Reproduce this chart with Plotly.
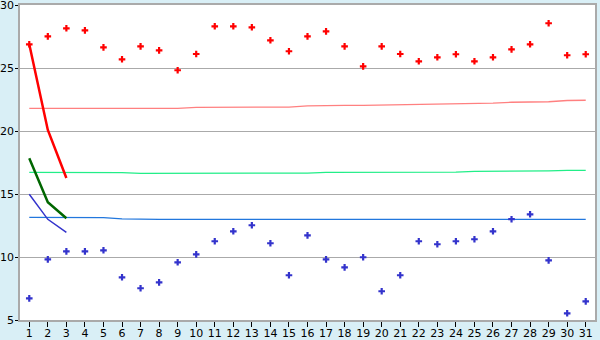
import plotly.graph_objects as go

days = list(range(1, 32))
max_temp = [26.88, 27.51, 28.15, 27.99, 26.64, 25.69, 26.72, 26.40, 24.82, 26.11,
            28.31, 28.31, 28.23, 27.20, 26.33, 27.51, 27.91, 26.72, 25.13, 26.72,
            26.11, 25.53, 25.85, 26.09, 25.53, 25.85, 26.48, 26.88, 28.55, 26.01, 26.09]
min_temp = [6.72, 9.81, 10.45, 10.45, 10.53, 8.39, 7.52, 7.99, 9.58, 10.21,
            11.25, 12.04, 12.52, 11.09, 8.55, 11.72, 9.81, 9.18, 9.98, 7.28,
            8.55, 11.25, 11.01, 11.25, 11.41, 12.04, 13.00, 13.39, 9.73, 5.53, 6.48]
normal_max = [21.80, 21.80, 21.80, 21.80, 21.80, 21.80, 21.80, 21.80, 21.80, 21.88,
              21.88, 21.88, 21.88, 21.88, 21.90, 22.00, 22.04, 22.04, 22.04, 22.06,
              22.12, 22.12, 22.14, 22.20, 22.20, 22.22, 22.28, 22.28, 22.32, 22.42, 22.44]
normal_mean = [16.72, 16.72, 16.72, 16.72, 16.72, 16.70, 16.64, 16.64, 16.64, 16.64,
               16.64, 16.64, 16.64, 16.64, 16.64, 16.66, 16.72, 16.72, 16.72, 16.72,
               16.72, 16.72, 16.72, 16.74, 16.80, 16.80, 16.80, 16.80, 16.84, 16.88, 16.88]
normal_min = [13.15, 13.15, 13.15, 13.15, 13.12, 13.03, 12.99, 12.99, 12.99, 12.99,
              12.99, 12.99, 12.99, 12.99, 12.99, 12.99, 12.99, 12.99, 12.99, 12.99,
              12.99, 12.99, 12.99, 12.99, 12.99, 12.99, 12.99, 12.99, 12.99, 12.99, 12.99]
fc_days = [1, 2, 3]
fc_max = [26.88, 20.08, 16.27]
fc_mean = [17.83, 14.34, 13.07]
fc_min = [14.98, 12.99, 11.96]

fig = go.Figure()
fig.add_trace(go.Scatter(x=days, y=normal_max, mode="lines",
                         line=dict(color="#FF8080", width=1.3), hoverinfo="skip"))
fig.add_trace(go.Scatter(x=days, y=normal_mean, mode="lines",
                         line=dict(color="#22EE88", width=1.3), hoverinfo="skip"))
fig.add_trace(go.Scatter(x=days, y=normal_min, mode="lines",
                         line=dict(color="#2277DD", width=1.3), hoverinfo="skip"))
fig.add_trace(go.Scatter(x=fc_days, y=fc_max, mode="lines",
                         line=dict(color="#FF0000", width=2.5)))
fig.add_trace(go.Scatter(x=fc_days, y=fc_mean, mode="lines",
                         line=dict(color="#006600", width=2.5)))
fig.add_trace(go.Scatter(x=fc_days, y=fc_min, mode="lines",
                         line=dict(color="#3333CC", width=1.5)))
fig.add_trace(go.Scatter(x=days, y=max_temp, mode="markers",
                         marker=dict(symbol="cross", size=5.5, color="#FF0000",
                                     line=dict(width=0))))
fig.add_trace(go.Scatter(x=days, y=min_temp, mode="markers",
                         marker=dict(symbol="cross", size=5.5, color="#3333CC",
                                     line=dict(width=0))))

fig.update_layout(
    width=600, height=340,
    margin=dict(l=20, r=5, t=5, b=20, autoexpand=False),
    paper_bgcolor="#D9EFF6",
    plot_bgcolor="#FFFFFF",
    showlegend=False,
    font=dict(family="DejaVu Sans", size=11, color="#000000"),
    xaxis=dict(range=[0.5, 31.5], tickvals=days, ticks="outside", ticklen=5,
               tickcolor="#000000", showgrid=False, zeroline=False, automargin=False,
               showline=True, linecolor="#AAAAAA", linewidth=1.5, mirror=True,
               tickfont=dict(size=11), ticklabelstandoff=-3,
               ticklabeloverflow="allow", fixedrange=True),
    yaxis=dict(range=[5, 30], tickvals=[5, 10, 15, 20, 25, 30], ticks="outside",
               ticklen=3, tickcolor="#000000", showgrid=True, gridcolor="#AAAAAA",
               gridwidth=1, zeroline=False, showline=True, linecolor="#AAAAAA",
               linewidth=1.5, mirror=True, tickfont=dict(size=11), fixedrange=True,
               ticklabelstandoff=-1, ticklabeloverflow="allow", automargin=False),
)

fig.write_html("out.html")
